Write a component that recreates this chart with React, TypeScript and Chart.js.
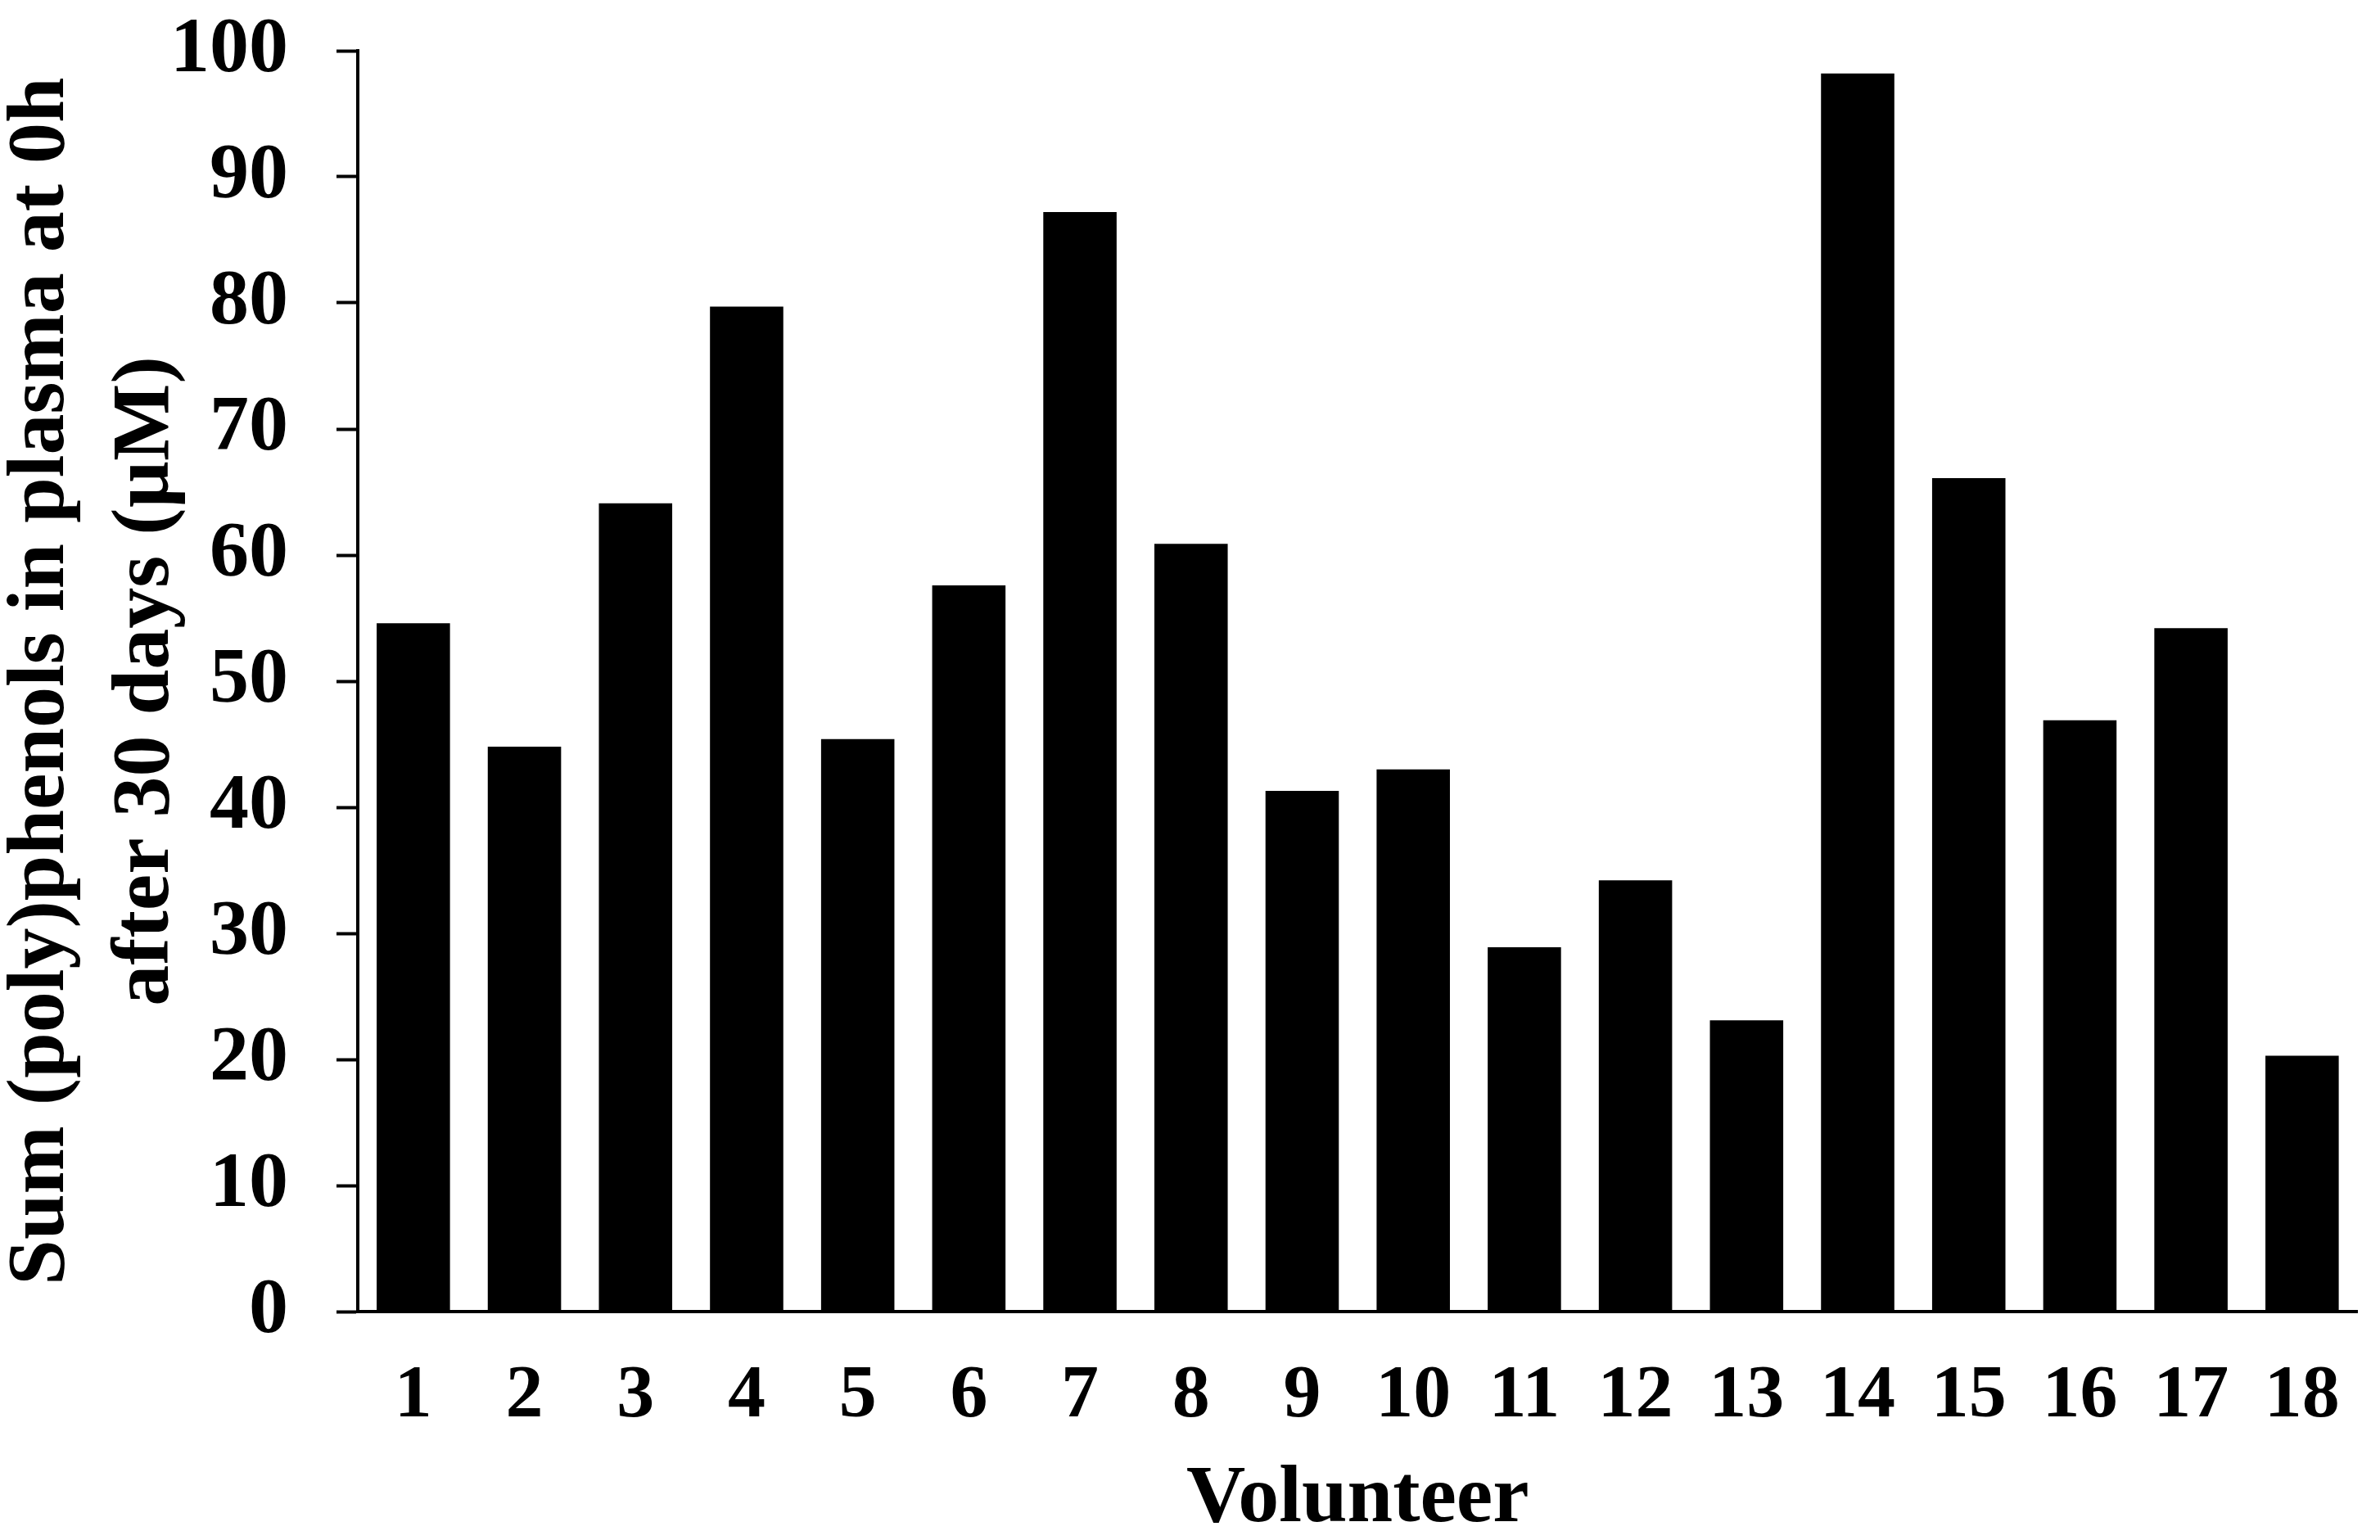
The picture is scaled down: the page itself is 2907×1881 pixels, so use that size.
import { useEffect, useRef } from "react";
import { Chart, registerables } from "chart.js";

Chart.register(...registerables);

const volunteers = ["1", "2", "3", "4", "5", "6", "7", "8", "9", "10", "11", "12", "13", "14", "15", "16", "17", "18"];
const polyphenols = [54.6, 44.8, 64.1, 79.7, 45.4, 57.6, 87.2, 60.9, 41.3, 43.0, 28.9, 34.2, 23.1, 98.2, 66.1, 46.9, 54.2, 20.3];
const yTitle = ["Sum (poly)phenols in plasma at 0h", "after 30 days (µM)"];
const xTitle = "Volunteer";

const serif = "'Liberation Serif', 'Times New Roman', serif";

export default function App() {
  const chartRef = useRef<Chart | null>(null);
  const canvasRef = useRef<HTMLCanvasElement | null>(null);

  useEffect(() => {
    if (chartRef.current) chartRef.current.destroy();
    const ctx = canvasRef.current?.getContext("2d");
    if (!ctx) return;

    chartRef.current = new Chart(ctx, {
      type: "bar",
      data: {
        labels: volunteers,
        datasets: [
          {
            data: polyphenols,
            backgroundColor: "#000000",
            borderWidth: 0,
            categoryPercentage: 1,
            barPercentage: 0.66,
          },
        ],
      },
      options: {
        animation: false,
        responsive: true,
        maintainAspectRatio: false,
        layout: { padding: { top: 54, right: 6, left: 0, bottom: 0 } },
        plugins: {
          legend: { display: false },
          tooltip: { enabled: false },
        },
        scales: {
          x: {
            grid: { display: false },
            border: { display: true, color: "#000", width: 4 },
            ticks: {
              color: "#000",
              padding: 41,
              maxRotation: 0,
              autoSkip: false,
              font: { family: serif, size: 92, weight: "bold" },
            },
            title: {
              display: true,
              text: xTitle,
              color: "#000",
              padding: { top: 0, bottom: -9 },
              font: { family: serif, size: 100, weight: "bold", lineHeight: 1 },
            },
            afterFit: (scale: any) => {
              scale.height = 271;
            },
          },
          y: {
            min: 0,
            max: 100,
            grid: {
              display: true,
              drawOnChartArea: false,
              drawTicks: true,
              tickLength: 26,
              tickWidth: 4,
              tickColor: "#000",
            },
            border: { display: true, color: "#000", width: 4 },
            ticks: {
              stepSize: 10,
              color: "#000",
              padding: 59,
              font: { family: serif, size: 96, weight: "bold" },
            },
            title: {
              display: true,
              text: yTitle,
              color: "#000",
              padding: { top: -21, bottom: 0 },
              font: { family: serif, size: 100, weight: "bold", lineHeight: 1.28 },
            },
            afterFit: (scale: any) => {
              scale.width = 429;
              // the top label fits inside the layout padding
              scale.paddingTop = 0;
              scale.paddingBottom = 0;
            },
          },
        },
      },
    });

    return () => {
      if (chartRef.current) {
        chartRef.current.destroy();
        chartRef.current = null;
      }
    };
  }, []);

  return (
    <div style={{ width: 2891, height: 1865, position: "relative" }}>
      <canvas ref={canvasRef} />
    </div>
  );
}
